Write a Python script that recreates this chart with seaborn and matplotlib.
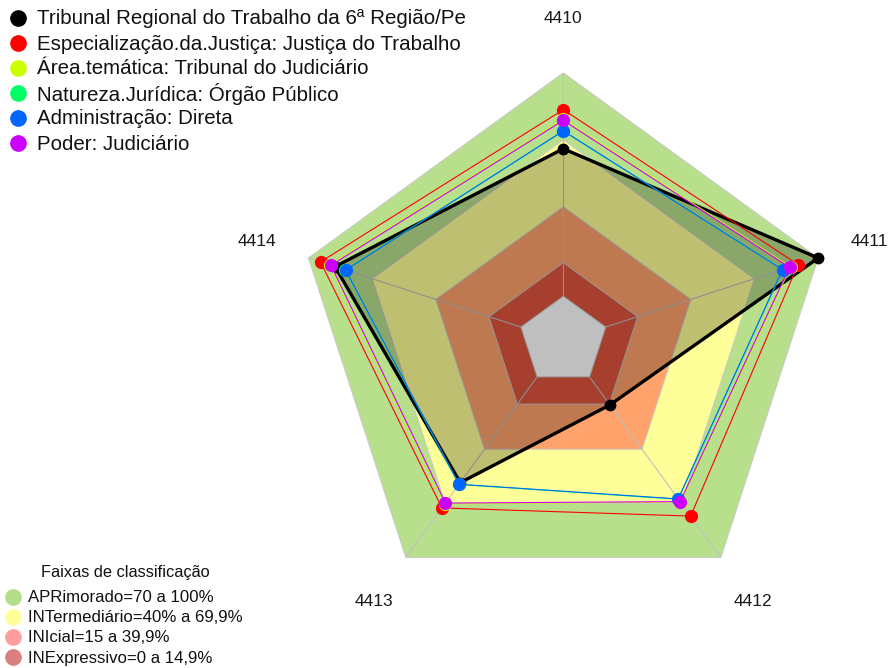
import numpy as np
import pandas as pd
import matplotlib
matplotlib.use("Agg")
import matplotlib.pyplot as plt
from matplotlib.lines import Line2D
import seaborn as sns

# Indicator axes, clockwise from the top
indicators = ["4410", "4411", "4412", "4413", "4414"]

series_names = [
    "Tribunal Regional do Trabalho da 6ª Região/Pe",
    "Especialização.da.Justiça: Justiça do Trabalho",
    "Área.temática: Tribunal do Judiciário",
    "Natureza.Jurídica: Órgão Público",
    "Administração: Direta",
    "Poder: Judiciário",
]
series_colors = ["#000000", "#FF0000", "#CCFF00", "#00FF66", "#0066FF", "#CC00FF"]

trt6 = [66.0, 100.0, 15.5, 58.5, 87.5]
especializacao = [83.5, 90.5, 77.0, 72.5, 94.3]
area_tematica = [79.3, 87.0, 69.3, 70.2, 90.0]
natureza = [74.0, 83.3, 67.7, 59.5, 82.7]
administracao = [74.0, 83.2, 67.5, 59.4, 82.5]
poder = [78.7, 86.5, 69.0, 69.8, 89.4]
series_values = [trt6, especializacao, area_tematica, natureza, administracao, poder]

# Classification bands (upper limit of each band, in %)
band_limits = [100, 70, 40, 15, 0]
band_fill = ["#B8E08C", "#FFFF99", "#FFA26B", "#E05540", "#FFFFFF"]
band_labels = [
    "APRimorado=70 a 100%",
    "INTermediário=40% a 69,9%",
    "INIcial=15 a 39,9%",
    "INExpressivo=0 a 14,9%",
]
band_legend_colors = ["#B3DD87", "#FFFF99", "#FF9E9E", "#D97F7F"]

r_min, r_max = -20, 100

sns.set_theme(style="white")
plt.rcParams["font.family"] = ["Liberation Sans", "DejaVu Sans"]

fig = plt.figure(figsize=(8.89, 6.68), dpi=100)
fig.patch.set_facecolor("white")
ax = fig.add_axes([0.3322, 0.0886, 0.6029, 0.8024], projection="polar")
ax.set_facecolor("white")
ax.set_theta_zero_location("N")
ax.set_theta_direction(-1)

n = len(indicators)
theta = np.linspace(0, 2 * np.pi, n, endpoint=False)
theta_closed = np.append(theta, 2 * np.pi)


def closed(vals):
    return np.append(vals, vals[0])


# Band pentagons, outermost first
for lvl, col in zip(band_limits, band_fill):
    ax.fill(theta_closed, closed([lvl] * n), color=col, lw=0, zorder=1)
for lvl in band_limits:
    ax.plot(theta_closed, closed([lvl] * n), color="#C8C8C8", lw=0.7, zorder=2)
for t in theta:
    ax.plot([t, t], [0, r_max], color="#C0C0C0", lw=0.8, zorder=2)

# Series
for i, (name, vals, col) in enumerate(zip(series_names, series_values, series_colors)):
    df = pd.DataFrame({"theta": theta_closed, "r": closed(vals)})
    if i == 0:
        ax.fill(df["theta"], df["r"], color="black", alpha=0.25, lw=0, zorder=3)
        lw, ms = 2.4, 7.5
    else:
        lw, ms = 0.8, 8.5
    sns.lineplot(data=df, x="theta", y="r", sort=False, estimator=None,
                 color=col, lw=lw, ax=ax, legend=False, zorder=4 + i)
    ax.lines[-1].set_clip_on(False)
    pts = ax.plot(theta, vals, ls="none", marker="o", ms=ms, color=col,
                  mec=col, zorder=4 + i)
    pts[0].set_clip_on(False)

ax.set_ylim(r_min, r_max)
ax.set_xticks([])
ax.set_yticks([])
ax.grid(False)
ax.spines["polar"].set_visible(False)
ax.set_xlabel("")
ax.set_ylabel("")

# Axis labels outside the outer pentagon
for t, lab in zip(theta, indicators):
    ax.text(t, 124.2, lab, ha="center", va="center", fontsize=12.5,
            color="#1a1a1a", clip_on=False)

# Series legend (top left)
W, H = 889, 668
for i, (name, col) in enumerate(zip(series_names, series_colors)):
    y = 1 - (18 + 25 * i) / H
    fig.add_artist(Line2D([18 / W], [y], marker="o", ms=11, color=col,
                          mec=col, ls="none", transform=fig.transFigure))
    fig.text(37 / W, y - 1 / H, name, ha="left", va="center", fontsize=14.8,
             color="#111111")

# Classification bands legend (bottom left)
fig.text(125 / W, 1 - 572 / H, "Faixas de classificação", ha="center",
         va="center", fontsize=11.8, color="#111111")
for i, (lab, col) in enumerate(zip(band_labels, band_legend_colors)):
    y = 1 - (597 + 20 * i) / H
    fig.add_artist(Line2D([13 / W], [y], marker="o", ms=11, color=col,
                          mec=col, ls="none", transform=fig.transFigure))
    fig.text(28 / W, y - 1 / H, lab, ha="left", va="center", fontsize=12.1,
             color="#111111")

fig.savefig("out.png", dpi=100, facecolor="white")
